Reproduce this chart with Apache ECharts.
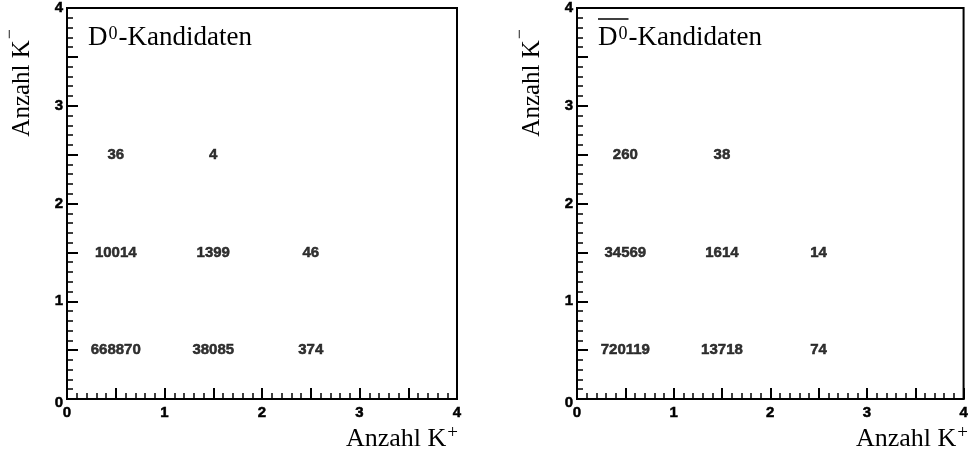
<!DOCTYPE html>
<html>
<head>
<meta charset="utf-8">
<script src="https://cdn.jsdelivr.net/npm/echarts@6/dist/echarts.min.js"></script>
<style>
  html, body { margin: 0; padding: 0; background: #fff; }
  #chart { width: 971px; height: 453px; }
</style>
</head>
<body>
<div id="chart"></div>
<script>
// Bin centres of the K+ / K- multiplicity histograms
const kPlusCenters = [0.5, 1.5, 2.5];
const kMinusCenters = [0.5, 1.5, 2.5];
const tickLabels = ['0', '1', '2', '3', '4'];

// D0 candidates: one row per K- bin (0, 1, 2), columns are K+ bins
const d0Row0 = [668870, 38085, 374];
const d0Row1 = [10014, 1399, 46];
const d0Row2 = [36, 4];

// anti-D0 candidates
const d0barRow0 = [720119, 13718, 74];
const d0barRow1 = [34569, 1614, 14];
const d0barRow2 = [260, 38];

// Titles as [base, superscript, rest]
const panelTitle = ['D', '0', '-Kandidaten'];
const xTitle = ['Anzahl K', '+', ''];
const yTitle = ['Anzahl K', '\u2212', ''];

function cells(rows) {
  const out = [];
  rows.forEach((row, j) => row.forEach((v, i) => out.push([kPlusCenters[i], kMinusCenters[j], v])));
  return out;
}

const SANS = '"Liberation Sans", Arial, sans-serif';
const SERIF = '"Liberation Serif", "Times New Roman", serif';

const grids = [
  { left: 67, top: 8, width: 390, height: 391 },
  { left: 577, top: 8, width: 390, height: 391 }
];

const labelFont = { color: '#000', fontFamily: SANS, fontWeight: 'bold', fontSize: 15,
                    textBorderColor: '#000', textBorderWidth: 0.5 };

function axis(gridIndex, isY) {
  return {
    type: 'value', gridIndex, min: 0, max: 4, interval: 0.5,
    axisLine: { show: true, lineStyle: { color: '#000', width: 2 } },
    axisTick: { show: true, inside: true, length: 11, lineStyle: { color: '#000', width: 2 } },
    minorTick: { show: true, splitNumber: 5, length: 6, lineStyle: { color: '#000', width: 1.5 } },
    splitLine: { show: false },
    axisLabel: Object.assign({}, labelFont, {
      margin: isY ? 4 : 6,
      formatter: v => {
        if (!Number.isInteger(v)) return '';
        if (isY && v === 0) return '{z|' + tickLabels[v] + '}';
        return tickLabels[v];
      },
      rich: { z: Object.assign({}, labelFont, { padding: [7, 0, 0, 0] }) }
    })
  };
}

const series = [
  { rows: [d0Row0, d0Row1, d0Row2] },
  { rows: [d0barRow0, d0barRow1, d0barRow2] }
].map((s, i) => ({
  type: 'scatter', xAxisIndex: i, yAxisIndex: i, symbolSize: 0,
  label: Object.assign({ show: true, position: 'inside', formatter: p => String(p.value[2]) }, labelFont),
  data: cells(s.rows)
}));

// Text with a raised superscript, laid out from measured widths (top-aligned pieces)
const measure = document.createElement('canvas').getContext('2d');
function textWidth(t, size) {
  measure.font = size + 'px ' + SERIF;
  return measure.measureText(t).width;
}
function supText(parts, size, supSize, supRaise) {
  const w0 = textWidth(parts[0], size);
  const w1 = textWidth(parts[1], supSize);
  const w2 = textWidth(parts[2], size);
  const mk = (t, x, y, s) => ({
    type: 'text', x, y,
    style: { text: t, font: s + 'px ' + SERIF, fill: '#000', align: 'left', verticalAlign: 'top' }
  });
  const children = [mk(parts[0], 0, 0, size), mk(parts[1], w0 + 1, -supRaise, supSize)];
  if (parts[2]) children.push(mk(parts[2], w0 + w1 + 2, 0, size));
  return { children, width: w0 + w1 + (parts[2] ? w2 + 2 : 1), baseWidth: w0, supWidth: w1 };
}

const graphic = [];
grids.forEach((g, i) => {
  const right = g.left + g.width;
  const pt = supText(panelTitle, 27, 18, -1);
  graphic.push({ type: 'group', x: g.left + 21, y: 24, children: pt.children });
  if (i === 1) {
    graphic.push({
      type: 'line',
      shape: { x1: g.left + 21, y1: 19, x2: g.left + 21 + pt.baseWidth + pt.supWidth + 2, y2: 19 },
      style: { stroke: '#000', lineWidth: 1.5 }
    });
  }
  const xt = supText(xTitle, 26, 19, 2);
  graphic.push({ type: 'group', x: right + 1 - xt.width, y: 426, children: xt.children });
  const yt = supText(yTitle, 25, 18, 9);
  // rotated so the text reads upwards and ends near the top of the axis
  graphic.push({ type: 'group', x: g.left - 57, y: 29 + yt.width, rotation: Math.PI / 2, children: yt.children });
});

const chart = echarts.init(document.getElementById('chart'), null, { renderer: 'canvas' });
chart.setOption({
  animation: false,
  backgroundColor: '#fff',
  grid: grids.map(g => Object.assign({ show: true, borderColor: '#000', borderWidth: 2, backgroundColor: 'transparent' }, g)),
  xAxis: [0, 1].map(g => axis(g, false)),
  yAxis: [0, 1].map(g => axis(g, true)),
  series,
  graphic
});
</script>
</body>
</html>
